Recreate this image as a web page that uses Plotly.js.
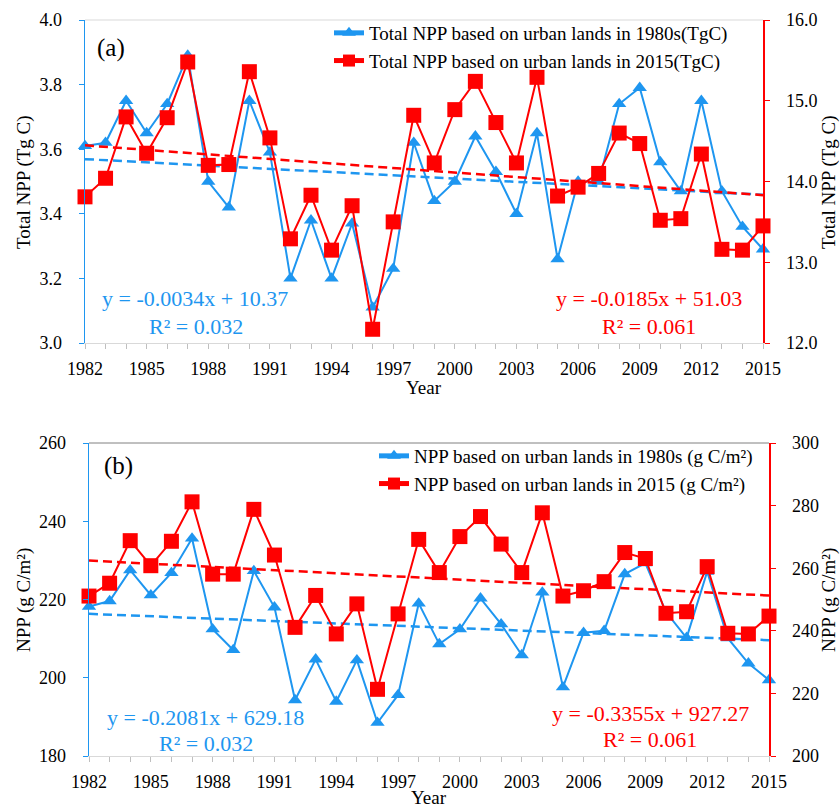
<!DOCTYPE html>
<html>
<head>
<meta charset="utf-8">
<script src="https://cdn.plot.ly/plotly-3.0.1.min.js"></script>
<style>
  html, body { margin: 0; padding: 0; background: #ffffff; }
  #chart { width: 840px; height: 807px; }
</style>
</head>
<body>
<div id="chart"></div>
<script>
// Years covered by both panels
const years = [1982, 1983, 1984, 1985, 1986, 1987, 1988, 1989, 1990, 1991,
               1992, 1993, 1994, 1995, 1996, 1997, 1998, 1999, 2000, 2001,
               2002, 2003, 2004, 2005, 2006, 2007, 2008, 2009, 2010, 2011,
               2012, 2013, 2014, 2015];

// (a) Total NPP (Tg C)
const totalNpp1980s = [3.61, 3.62, 3.75, 3.65, 3.74, 3.89, 3.50, 3.42, 3.75, 3.59,
                       3.20, 3.38, 3.20, 3.37, 3.11, 3.23, 3.62, 3.44, 3.50, 3.64,
                       3.53, 3.40, 3.65, 3.26, 3.50, 3.50, 3.74, 3.79, 3.56, 3.47,
                       3.75, 3.47, 3.36, 3.29];
const totalNpp2015 = [13.81, 14.04, 14.80, 14.35, 14.79, 15.48, 14.20, 14.21, 15.36, 14.54,
                      13.29, 13.83, 13.15, 13.70, 12.17, 13.50, 14.82, 14.23, 14.89, 15.24,
                      14.73, 14.23, 15.29, 13.82, 13.93, 14.10, 14.60, 14.47, 13.52, 13.54,
                      14.34, 13.16, 13.15, 13.45];

// (b) NPP per unit area (g C/m²)
const npp1980s = [218.2, 219.6, 227.5, 221.1, 226.8, 235.6, 212.4, 207.1, 227.3, 218.0,
                  194.3, 204.7, 193.9, 204.5, 188.5, 195.6, 219.0, 208.6, 212.4, 220.3,
                  213.7, 205.8, 221.8, 197.6, 211.5, 212.0, 226.5, 229.3, 216.8, 210.2,
                  227.1, 210.1, 203.7, 199.4];
const npp2015 = [251.1, 255.2, 268.8, 260.8, 268.6, 281.2, 258.1, 258.1, 278.8, 264.2,
                 241.1, 251.3, 239.0, 248.6, 221.3, 245.4, 269.2, 258.6, 270.1, 276.5,
                 267.7, 258.6, 277.7, 251.1, 252.8, 255.7, 265.0, 263.1, 245.6, 246.1,
                 260.5, 239.2, 239.0, 244.7];

// Legend and equation labels
const names = {
  a1980s: 'Total NPP based on urban lands in 1980s(TgC)',
  a2015: 'Total NPP based on urban lands in 2015(TgC)',
  b1980s: 'NPP based on urban lands in 1980s (g C/m²)',
  b2015: 'NPP based on urban lands in 2015 (g C/m²)'
};
const eqA1980s = ['y = -0.0034x + 10.37', 'R² = 0.032'];
const eqA2015 = ['y = -0.0185x + 51.03', 'R² = 0.061'];
const eqB1980s = ['y = -0.2081x + 629.18', 'R² = 0.032'];
const eqB2015 = ['y = -0.3355x + 927.27', 'R² = 0.061'];

const BLUE = '#1E96F0';
const RED = '#FF0000';
const FONT = '"Liberation Serif", "Times New Roman", serif';

// Least-squares linear trend evaluated at the first and last year
function trend(xs, ys) {
  const n = xs.length;
  const mx = xs.reduce((s, v) => s + v, 0) / n;
  const my = ys.reduce((s, v) => s + v, 0) / n;
  let sxy = 0, sxx = 0;
  for (let i = 0; i < n; i++) {
    sxy += (xs[i] - mx) * (ys[i] - my);
    sxx += (xs[i] - mx) * (xs[i] - mx);
  }
  const b = sxy / sxx;
  const a = my - b * mx;
  const ends = [xs[0], xs[n - 1]];
  return { x: ends, y: ends.map(v => a + b * v) };
}

function series(x, y, name, color, symbol, size, xa, ya, legend) {
  return {
    type: 'scatter', mode: 'lines+markers', x: x, y: y, name: name,
    xaxis: xa, yaxis: ya, cliponaxis: false, legend: legend,
    line: { color: color, width: 2 },
    marker: { color: color, symbol: symbol, size: size }
  };
}
function trendLine(x, y, color, xa, ya) {
  const t = trend(x, y);
  return {
    type: 'scatter', mode: 'lines', x: t.x, y: t.y, xaxis: xa, yaxis: ya,
    showlegend: false, hoverinfo: 'skip', cliponaxis: false,
    line: { color: color, width: 2.5, dash: '9px,5px' }
  };
}

const traces = [
  trendLine(years, totalNpp1980s, BLUE, 'x', 'y'),
  series(years, totalNpp1980s, names.a1980s, BLUE, 'triangle-up', 12.5, 'x', 'y', 'legend'),
  trendLine(years, totalNpp2015, RED, 'x', 'y2'),
  series(years, totalNpp2015, names.a2015, RED, 'square', 15, 'x', 'y2', 'legend'),
  trendLine(years, npp1980s, BLUE, 'x2', 'y3'),
  series(years, npp1980s, names.b1980s, BLUE, 'triangle-up', 12.5, 'x2', 'y3', 'legend2'),
  trendLine(years, npp2015, RED, 'x2', 'y4'),
  series(years, npp2015, names.b2015, RED, 'square', 15, 'x2', 'y4', 'legend2')
];

const W = 840, H = 807;
const px = v => v / W;
const py = v => 1 - v / H;

const tickFont = { family: FONT, size: 18, color: '#000000' };

function xAxis(domain, anchor) {
  return {
    domain: domain, anchor: anchor, range: [years[0], years[years.length - 1]],
    tick0: years[0], dtick: 3, ticks: 'outside', ticklen: 5, tickwidth: 1,
    tickcolor: '#bfbfbf', showline: true, linecolor: '#d9d9d9', linewidth: 1,
    showgrid: false, zeroline: false, tickfont: tickFont, ticklabelstandoff: 4,
    minor: { dtick: 1, tick0: years[0], ticks: 'outside', ticklen: 5, tickcolor: '#bfbfbf', showgrid: false }
  };
}
function yAxis(domain, range, dtick, fmt, color, extra) {
  return Object.assign({
    domain: domain, range: range, dtick: dtick, tickformat: fmt,
    ticks: 'outside', ticklen: 5, tickwidth: 1, tickcolor: color,
    showline: true, linecolor: color, linewidth: 1.5,
    showgrid: false, zeroline: false, tickfont: tickFont, ticklabelstandoff: 13
  }, extra);
}

const legendFont = { family: FONT, size: 19, color: '#000000' };

function note(text, x, y, color, size, angle) {
  return {
    text: text, xref: 'paper', yref: 'paper', x: px(x), y: py(y),
    xanchor: 'center', yanchor: 'middle', showarrow: false,
    textangle: angle || 0,
    font: { family: FONT, size: size, color: color }
  };
}

const layout = {
  width: W, height: H,
  margin: { l: 0, r: 0, t: 0, b: 0 },
  paper_bgcolor: '#ffffff', plot_bgcolor: 'rgba(0,0,0,0)',
  font: { family: FONT, color: '#000000' },
  xaxis: xAxis([px(85), px(763)], 'y'),
  yaxis: yAxis([py(343), py(20)], [3.0, 4.0], 0.2, '.1f', BLUE, {}),
  yaxis2: yAxis([py(343), py(20)], [12.0, 16.0], 1, '.1f', RED,
                { overlaying: 'y', side: 'right', anchor: 'x' }),
  xaxis2: xAxis([px(89), px(769)], 'y3'),
  yaxis3: yAxis([py(756), py(443)], [180, 260], 20, 'd', BLUE, { anchor: 'x2' }),
  yaxis4: yAxis([py(756), py(443)], [200, 300], 20, 'd', RED,
                { overlaying: 'y3', side: 'right', anchor: 'x2' }),
  legend: {
    x: px(329), y: py(14), xanchor: 'left', yanchor: 'top',
    bgcolor: 'rgba(0,0,0,0)', borderwidth: 0, font: legendFont,
    traceorder: 'normal', itemsizing: 'constant', tracegroupgap: 0
  },
  legend2: {
    x: px(374), y: py(437), xanchor: 'left', yanchor: 'top',
    bgcolor: 'rgba(0,0,0,0)', borderwidth: 0, font: legendFont,
    traceorder: 'normal', itemsizing: 'constant', tracegroupgap: 0
  },
  shapes: [
    { type: 'line', xref: 'x domain', yref: 'y domain', x0: 0, x1: 1, y0: 1, y1: 1,
      line: { color: '#d9d9d9', width: 1 } },
    { type: 'line', xref: 'x2 domain', yref: 'y3 domain', x0: 0, x1: 1, y0: 1, y1: 1,
      line: { color: '#808080', width: 1 } }
  ],
  annotations: [
    note('(a)', 111, 48, '#000000', 25),
    note('(b)', 118, 466, '#000000', 25),
    note(eqA1980s[0], 195, 298, BLUE, 22),
    note(eqA1980s[1], 196, 326, BLUE, 22),
    note(eqA2015[0], 649, 298, RED, 22),
    note(eqA2015[1], 649, 326, RED, 22),
    note(eqB1980s[0], 205, 717, BLUE, 22),
    note(eqB1980s[1], 206, 743, BLUE, 22),
    note(eqB2015[0], 650, 713, RED, 22),
    note(eqB2015[1], 650, 739, RED, 22),
    note('Total NPP (Tg C)', 24, 182, '#000000', 19, -90),
    note('Total NPP (Tg C)', 829, 182, '#000000', 19, -90),
    note('Year', 424, 388, '#000000', 19),
    note('NPP (g C/m²)', 24, 600, '#000000', 19, -90),
    note('NPP (g C/m²)', 829, 600, '#000000', 19, -90),
    note('Year', 429, 797, '#000000', 19)
  ]
};

Plotly.newPlot('chart', traces, layout, { displayModeBar: false, staticPlot: true });
</script>
</body>
</html>
